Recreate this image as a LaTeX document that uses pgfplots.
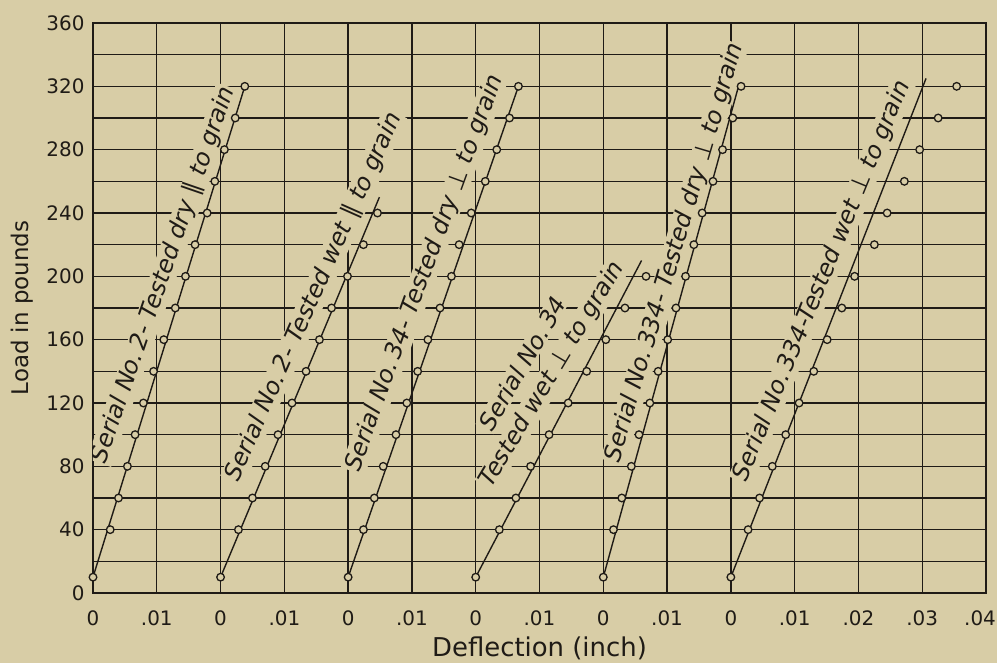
\documentclass[border=0pt]{standalone}
\usepackage{fontspec}
\setmainfont{DejaVu Sans}
\newfontfamily\symfont{DejaVu Sans}
\usepackage{pgfplots}
\pgfplotsset{compat=1.18}
\usepackage{pgfplotstable}
\usetikzlibrary{backgrounds,calc}
\definecolor{paper}{HTML}{D8CDA6}
\definecolor{ink}{HTML}{1F1B16}
\tikzset{
  lbl/.style={fill=paper, inner sep=1bp, text=ink, font=\fontsize{24}{28}\selectfont\itshape},
  ln/.style={ink, line width=1.4bp},
  pts/.style={mark=*, mark size=3.8bp, mark options={fill=paper, draw=ink, line width=1.3bp, solid}},
}

% deflection d (inch), load p (pounds)
\pgfplotstableread{
d p
0 10
0.0027 40
0.0040 60
0.0054 80
0.0066 100
0.0079 120
0.0095 140
0.0111 160
0.0129 180
0.0145 200
0.0160 220
0.0179 240
0.0191 260
0.0206 280
0.0223 300
0.0238 320
}\sA
\pgfplotstableread{
d p
0 10
0.0028 40
0.0050 60
0.0070 80
0.0090 100
0.0112 120
0.0134 140
0.0155 160
0.0174 180
0.0199 200
0.0224 220
0.0246 240
}\sB
\pgfplotstableread{
d p
0 10
0.0024 40
0.0041 60
0.0055 80
0.0075 100
0.0092 120
0.0109 140
0.0125 160
0.0144 180
0.0162 200
0.0174 220
0.0193 240
0.0215 260
0.0233 280
0.0253 300
0.0267 320
}\sC
\pgfplotstableread{
d p
0 10
0.0037 40
0.0063 60
0.0086 80
0.0115 100
0.0145 120
0.0174 140
0.0204 160
0.0234 180
0.0267 200
}\sD
\pgfplotstableread{
d p
0 10
0.0016 40
0.0029 60
0.0044 80
0.0056 100
0.0073 120
0.0086 140
0.0101 160
0.0114 180
0.0129 200
0.0142 220
0.0155 240
0.0172 260
0.0187 280
0.0203 300
0.0216 320
}\sE
\pgfplotstableread{
d p
0 10
0.0027 40
0.0045 60
0.0065 80
0.0086 100
0.0107 120
0.0130 140
0.0151 160
0.0174 180
0.0194 200
0.0225 220
0.0245 240
0.0272 260
0.0296 280
0.0325 300
0.0354 320
}\sF

\begin{document}
\begin{tikzpicture}
\begin{axis}[
  width=893bp, height=570bp, scale only axis,
  xmin=0, xmax=14, ymin=0, ymax=360,
  xtick={0,1,...,14},
  xticklabels={0,.01,0,.01,0,.01,0,.01,0,.01,0,.01,.02,.03,{\kern-12bp.04}},
  ytick={0,40,...,360},
  minor ytick={20,60,...,340},
  grid=both,
  major grid style={ink, line width=1.3bp},
  minor grid style={ink, line width=1.3bp},
  axis line style={ink, line width=2bp},
  tick style={draw=none},
  ticklabel style={font=\fontsize{20}{22}\selectfont, text=ink},
  xticklabel style={yshift=-14bp},
  yticklabel style={xshift=-5bp},
  /pgf/number format/assume math mode=true,
  xlabel={Deflection (inch)},
  ylabel={Load in pounds},
  every axis x label/.style={at={(axis description cs:0.5,0)}, anchor=center, yshift=-55bp, font=\fontsize{26}{28}\selectfont, text=ink},
  every axis y label/.style={at={(axis description cs:0,0.5)}, anchor=center, rotate=90, yshift=71bp, font=\fontsize{23}{26}\selectfont, text=ink},
]
\node[lbl, rotate=71] at (axis cs:1.11,201) {Serial No.\,2- Tested dry {\symfont\upshape ∥} to grain};
\node[lbl, rotate=66] at (axis cs:3.46,187) {Serial No.\,2- Tested wet {\symfont\upshape ∥} to grain};
\node[lbl, rotate=70] at (axis cs:5.20,202) {Serial No.\,34- Tested dry {\symfont\upshape ⊥} to grain};
\node[lbl, rotate=60] at (axis cs:6.73,145) {Serial No.\,34};
\node[lbl, rotate=59] at (axis cs:7.20,138) {Tested wet {\symfont\upshape ⊥} to grain};
\node[lbl, rotate=73.5] at (axis cs:9.12,215) {Serial No.\,334- Tested dry {\symfont\upshape ⊥} to grain};
\node[lbl, rotate=67.7] at (axis cs:11.43,197) {Serial No.\,334-Tested wet {\symfont\upshape ⊥} to grain};

\addplot[ln] table[row sep=\\, x expr=\thisrow{d}*100, y=p] {d p\\ 0 10\\ 0.0238 320\\};
\addplot[ln] table[row sep=\\, x expr=\thisrow{d}*100+2, y=p] {d p\\ 0 10\\ 0.0249 250\\};
\addplot[ln] table[row sep=\\, x expr=\thisrow{d}*100+4, y=p] {d p\\ 0 10\\ 0.0267 320\\};
\addplot[ln] table[row sep=\\, x expr=\thisrow{d}*100+6, y=p] {d p\\ 0 10\\ 0.0260 210\\};
\addplot[ln] table[row sep=\\, x expr=\thisrow{d}*100+8, y=p] {d p\\ 0 10\\ 0.0212 320\\};
\addplot[ln] table[row sep=\\, x expr=\thisrow{d}*100+10, y=p] {d p\\ 0 10\\ 0.0306 325\\};

\addplot[pts, only marks] table[x expr=\thisrow{d}*100, y=p] {\sA};
\addplot[pts, only marks] table[x expr=\thisrow{d}*100+2, y=p] {\sB};
\addplot[pts, only marks] table[x expr=\thisrow{d}*100+4, y=p] {\sC};
\addplot[pts, only marks] table[x expr=\thisrow{d}*100+6, y=p] {\sD};
\addplot[pts, only marks] table[x expr=\thisrow{d}*100+8, y=p] {\sE};
\addplot[pts, only marks] table[x expr=\thisrow{d}*100+10, y=p] {\sF};
\end{axis}
\pgfresetboundingbox
\path[use as bounding box] ($(current axis.south west)+(-93bp,-70bp)$) rectangle ($(current axis.north east)+(11bp,23bp)$);
\begin{pgfonlayer}{background}
\fill[paper] ($(current axis.south west)+(-93bp,-70bp)$) rectangle ($(current axis.north east)+(11bp,23bp)$);
\end{pgfonlayer}
\end{tikzpicture}
\end{document}
